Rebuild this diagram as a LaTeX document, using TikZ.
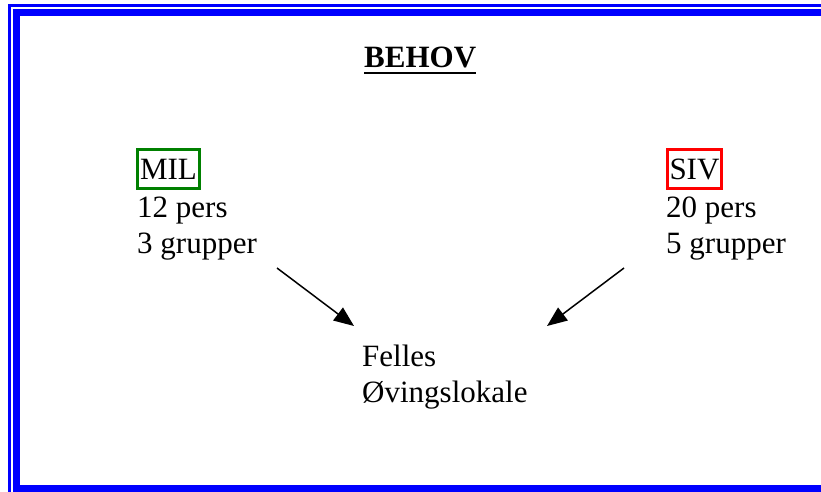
\documentclass[tikz,border=0pt]{standalone}
\usepackage{fontspec}
\setmainfont{Liberation Serif}
\usetikzlibrary{arrows.meta}
\definecolor{frameblue}{RGB}{0,0,255}
\definecolor{milgreen}{RGB}{0,128,0}
\definecolor{sivred}{RGB}{255,0,0}
\begin{document}
\begin{tikzpicture}[x=1pt,y=-1pt,
  txt/.style={inner sep=0pt,anchor=base west,align=left,font=\fontsize{31}{36}\selectfont},
  tagbox/.style={txt,draw,line width=3pt,inner xsep=2.5pt,inner ysep=9pt},
  conn/.style={line width=1.5pt,-{Triangle[length=20pt,width=16pt]}}]
\useasboundingbox (0,0) rectangle (821,492);
\clip (0,0) rectangle (821,492);
% frame
\draw[frameblue,line width=3pt] (9.5,520) -- (9.5,5.5) -- (850,5.5);
\draw[frameblue,line width=7pt] (16.5,12.5) rectangle (850,488);
% title
\node[txt,font=\fontsize{31}{36}\selectfont\bfseries] (behov) at (364,68) {BEHOV};
\draw[line width=2pt] ([yshift=-5pt]behov.base west) -- ([yshift=-5pt]behov.base east);
% MIL
\node[tagbox,draw=milgreen] (mil) at (136,179) {MIL};
\node[txt] (milinfo) at (137,253) {12 pers\\3 grupper};
% SIV
\node[tagbox,draw=sivred] (siv) at (665.5,179) {SIV};
\node[txt] (sivinfo) at (666,253) {20 pers\\5 grupper};
% target
\node[txt] (felles) at (362,402) {Felles\\Øvingslokale};
% arrows
\coordinate (a1s) at (277,268);
\coordinate (a1e) at (354,326);
\coordinate (a2s) at (624,268);
\coordinate (a2e) at (547,326);
\draw[conn] (a1s) -- (a1e);
\draw[conn] (a2s) -- (a2e);
\end{tikzpicture}
\end{document}
